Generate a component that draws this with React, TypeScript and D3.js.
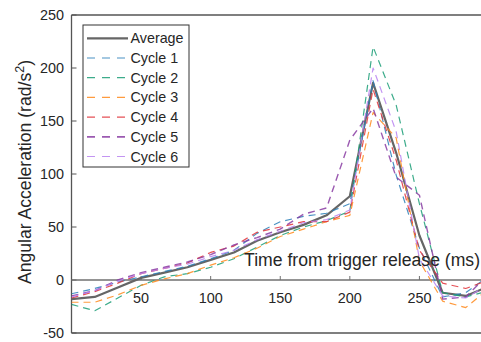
import React from "react";
import * as d3 from "d3";

const times = [0, 16.7, 33.3, 50, 66.7, 83.3, 100, 116.7, 133.3, 150, 166.7, 183.3, 200, 216.7, 233.3, 250, 266.7, 283.3, 300];
const average = [-18, -16, -7, 2, 7, 12, 19, 26, 37, 45, 52, 61, 79, 186, 120, 42, -12, -15, -6];
const cycle1 = [-13, -8, -2, 3, 8, 13, 20, 28, 44, 55, 60, 63, 72, 188, 99, 30, -16, -12, 4];
const cycle2 = [-23, -29, -17, -5, 3, 6, 12, 20, 31, 42, 50, 56, 65, 220, 165, 72, -12, -16, -10];
const cycle3 = [-21, -21, -14, -5, 1, 6, 14, 21, 30, 41, 48, 55, 61, 158, 134, 18, -20, -26, -8];
const cycle4 = [-17, -11, -3, 6, 11, 16, 26, 32, 45, 50, 55, 55, 64, 180, 113, 28, -3, -8, 0];
const cycle5 = [-15, -10, 0, 7, 12, 17, 24, 33, 40, 48, 62, 68, 132, 162, 97, 80, -18, -16, 6];
const cycle6 = [-16, -10, -1, 6, 11, 15, 22, 28, 38, 46, 54, 57, 66, 200, 140, 20, -15, -17, -4];

const seriesNames = ["Average", "Cycle 1", "Cycle 2", "Cycle 3", "Cycle 4", "Cycle 5", "Cycle 6"];
const seriesValues = [average, cycle1, cycle2, cycle3, cycle4, cycle5, cycle6];
const seriesColors = ["#666666", "#2c7fb8", "#1b9e77", "#ff8a1c", "#e0323a", "#8a3da3", "#b883f0"];

const yTicks = [-50, 0, 50, 100, 150, 200, 250];
const xTicks = [50, 100, 150, 200, 250];

const W = 481;
const H = 342;
const FONT = "'Liberation Sans', Arial, Helvetica, sans-serif";
const TXT = "#262626";

export default function App() {
  const x = d3.scaleLinear().domain([0, 300]).range([71.5, 489]);
  const y = d3.scaleLinear().domain([-50, 250]).range([333, 15]);
  const line = d3
    .line<number>()
    .x((_, i) => x(times[i]))
    .y((d) => y(d));

  const left = x(0);
  const top = y(250);
  const bottom = y(-50);
  const zeroY = y(0);

  return (
    <svg
      width={W}
      height={H}
      style={{ position: "fixed", left: 0, top: 0, background: "#fff" }}
      fontFamily={FONT}
    >
      <rect x={0} y={0} width={W} height={H} fill="#fff" />
      <defs>
        <clipPath id="plotclip">
          <rect x={left} y={top} width={W - left} height={bottom - top} />
        </clipPath>
      </defs>

      {/* box */}
      <line x1={left} x2={W} y1={top} y2={top} stroke="#555" strokeWidth={1.3} />
      <line x1={left} x2={W} y1={bottom} y2={bottom} stroke="#555" strokeWidth={1.3} />
      <line x1={left} x2={left} y1={top} y2={bottom} stroke="#555" strokeWidth={1.3} />

      {/* y ticks */}
      {yTicks.map((t) => (
        <g key={"y" + t}>
          <line x1={left} x2={left + 5} y1={y(t)} y2={y(t)} stroke="#555" strokeWidth={1} />
          <text
            x={64}
            y={y(t)}
            textAnchor="end"
            dominantBaseline="central"
            fontSize={14.4}
            fill={TXT}
          >
            {t}
          </text>
        </g>
      ))}

      {/* x axis at origin */}
      <line x1={left} x2={W} y1={zeroY} y2={zeroY} stroke="#707070" strokeWidth={1.3} />
      {xTicks.map((t) => (
        <g key={"x" + t}>
          <line x1={x(t)} x2={x(t)} y1={zeroY} y2={zeroY - 4} stroke="#707070" strokeWidth={1} />
          <text x={x(t)} y={303} textAnchor="middle" fontSize={14.4} fill={TXT}>
            {t}
          </text>
        </g>
      ))}

      {/* data */}
      <g clipPath="url(#plotclip)">
        {seriesValues.map((vals, i) => (
          <path
            key={seriesNames[i]}
            d={line(vals) || ""}
            fill="none"
            stroke={seriesColors[i]}
            strokeWidth={i === 0 ? 2.2 : i === 5 ? 1.4 : 1.2}
            strokeDasharray={i === 0 ? undefined : "7,5"}
            strokeOpacity={i === 0 ? 1 : 0.85}
            strokeLinejoin="round"
          />
        ))}
      </g>

      {/* axis labels */}
      <text x={480} y={266} textAnchor="end" fontSize={17.6} fill={TXT}>
        Time from trigger release (ms)
      </text>
      <text
        transform={`translate(31, ${(top + bottom) / 2 - 2}) rotate(-90)`}
        textAnchor="middle"
        fontSize={17.6}
        fill={TXT}
      >
        Angular Acceleration (rad/s
        <tspan dy={-7} fontSize={12.5}>
          2
        </tspan>
        <tspan dy={7}>)</tspan>
      </text>

      {/* legend */}
      <rect x={83} y={25} width={106} height={142} fill="#fff" stroke="#333" strokeWidth={1} />
      {seriesNames.map((name, i) => {
        const ly = 38.3 + i * 19.7;
        return (
          <g key={"lg" + name}>
            <line
              x1={87}
              x2={128}
              y1={ly}
              y2={ly}
              stroke={seriesColors[i]}
              strokeWidth={i === 0 ? 2.2 : i === 5 ? 1.8 : 1.2}
              strokeDasharray={i === 0 ? undefined : "8,7"}
              strokeOpacity={i === 0 ? 1 : 0.85}
            />
            <text x={130.5} y={ly} dominantBaseline="central" fontSize={14.3} fill={TXT}>
              {name}
            </text>
          </g>
        );
      })}
    </svg>
  );
}
